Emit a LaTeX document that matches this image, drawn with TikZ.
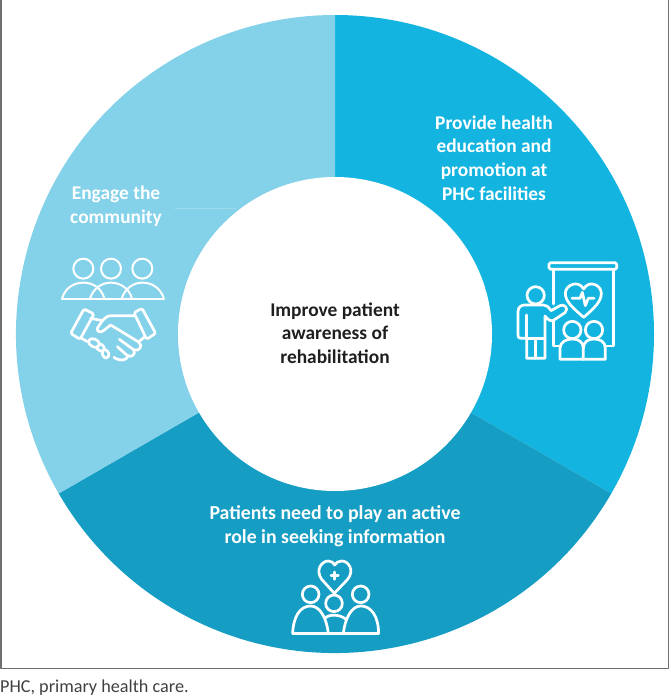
\documentclass[tikz,border=0pt]{standalone}
\usepackage{fontspec}
\setmainfont{Carlito}
\usepackage{xcolor}
\usetikzlibrary{positioning, calc}
\definecolor{ringa}{HTML}{13B5E0}
\definecolor{ringb}{HTML}{169DC4}
\definecolor{ringc}{HTML}{84D1EA}
\definecolor{framec}{HTML}{6F6F6F}
\definecolor{capc}{HTML}{404040}
\begin{document}
\begin{tikzpicture}[
  x=1pt, y=-1pt, line join=round, line cap=round,
  lab/.style={text=white, font=\fontsize{19.4}{23.6}\selectfont\bfseries, align=center},
  ico/.style={draw=white, line width=2.7pt},
  thin ico/.style={draw=white, line width=2pt}]
\useasboundingbox (0,0) rectangle (670,698);
\draw[framec, line width=1.4pt] (1,-2) rectangle (668.5,668.5);
% ring
\coordinate (c) at (335,334);
\fill[ringa] (c) -- ($(c)+(-90:319)$) arc[start angle=-90, end angle=30, radius=319] -- cycle;
\fill[ringb] (c) -- ($(c)+(30:319)$) arc[start angle=30, end angle=150, radius=319] -- cycle;
\fill[ringc] (c) -- ($(c)+(150:319)$) arc[start angle=150, end angle=270, radius=319] -- cycle;
\coordinate (seam a) at (175,208);
\coordinate (seam b) at (236,208);
\draw[ringc!80!white, line width=.6pt] (seam a) -- (seam b);
\node[circle, fill=white, minimum size=314pt, inner sep=0pt] (hub) at (c) {};
% labels
\node[lab, text=black!88] (core) at (335,333) {Improve patient\\awareness of\\rehabilitation};
\node[lab] (edu) at (494,158) {Provide health\\education and\\promotion at\\PHC facilities};
\node[lab, font=\fontsize{19.8}{23.8}\selectfont\bfseries] (act) at (335,526) {Patients need to play an active\\role in seeking information};
\node[lab] (com) at (116,206) {Engage the\\community};
\node[anchor=west, text=capc, font=\fontsize{18.2}{20}\selectfont, inner sep=0pt] (note) at (0,688) {PHC, primary health care.};
% presenter icon
\begin{scope}[shift={(480,240)}, x=0.3333pt, y=-0.3333pt]
\draw[ico, rounded corners=1.5pt] (207,68) rectangle (410,88);
\draw[ico] (220,88) -- (220,192) (220,245) -- (220,318) -- (240,318);
\draw[ico] (400,88) -- (400,318) -- (378,318);
\draw[ico] (311,232) .. controls (280,205) and (256,185) .. (256,160) .. controls (256,135) and (295,118) .. (311,147) .. controls (327,118) and (364,135) .. (364,160) .. controls (364,185) and (342,205) .. (311,232) -- cycle;
\draw[ico] (276,175) -- (300,175) -- (307,157) -- (316,197) -- (325,175) -- (342,175);
\draw[ico] (167,166) circle[radius=26];
\draw[ico] (140,355) -- (140,295) -- (122,295) .. controls (116,295) and (114,290) .. (114,285) -- (114,215) .. controls (114,200) and (125,195) .. (135,195) -- (190,195) .. controls (200,195) and (205,200) .. (213,212) -- (240,197) .. controls (252,190) and (268,205) .. (255,218) -- (222,240) .. controls (212,246) and (205,240) .. (195,228) -- (195,355) -- cycle;
\draw[ico] (140,225) -- (140,295) -- (195,295) (167,295) -- (167,355);
\draw[ico] (277,270) circle[radius=26] (342,270) circle[radius=26];
\draw[ico] (240,358) -- (240,325) .. controls (240,305) and (260,297) .. (277,297) .. controls (295,297) and (310,305) .. (310,325) -- (310,358) -- cycle;
\draw[ico] (310,325) .. controls (310,305) and (325,297) .. (342,297) .. controls (360,297) and (376,305) .. (376,325) -- (376,358) -- (310,358);
\end{scope}
% community icon
\begin{scope}[shift={(40,170)}, x=0.3333pt, y=-0.3333pt]
\draw[thin ico] (130,296) circle[radius=30] (213,296) circle[radius=30] (307,296) circle[radius=30];
\draw[thin ico] (66,386) -- (372,386);
\draw[thin ico] (66,386) .. controls (75,355) and (100,338) .. (130,338) .. controls (160,338) and (185,355) .. (193,386);
\draw[thin ico] (150,386) .. controls (160,355) and (185,338) .. (213,338) .. controls (240,338) and (268,355) .. (276,386);
\draw[thin ico] (245,386) .. controls (255,355) and (280,338) .. (307,338) .. controls (337,338) and (362,355) .. (372,386);
\end{scope}
% hands
\begin{scope}[shift={(60,300)}, x=0.3333pt, y=-0.3333pt]
\draw[ico, rounded corners=1.5pt] (72,27) -- (102,42) -- (60,118) -- (32,100) -- cycle;
\draw[ico, rounded corners=1.5pt] (246,25) -- (222,38) -- (260,118) -- (287,100) -- cycle;
\draw[ico] (222,47) -- (150,47) .. controls (135,50) and (128,60) .. (112,85) .. controls (110,95) and (122,100) .. (130,92) -- (152,75) -- (236,126) .. controls (250,138) and (238,155) .. (222,150) -- (178,118);
\draw[ico] (222,150) .. controls (228,165) and (212,175) .. (200,165) -- (172,140);
\draw[ico] (204,168) .. controls (200,182) and (180,185) .. (162,172);
\draw[ico] (255,110) -- (238,124);
\draw[ico] (92,55) -- (128,62);
\draw[ico] (62,113) -- (80,124);
\draw[ico, rounded corners=3pt] (85,118) -- (105,115) -- (122,132) -- (108,145) -- (85,132) -- cycle;
\draw[ico, rounded corners=3pt] (122,132) -- (135,140) -- (128,158) -- (110,145);
\draw[ico, rounded corners=3pt] (135,148) -- (150,160) -- (140,178) -- (125,165) -- (128,155);
\end{scope}
% patients icon
\begin{scope}[shift={(270,550)}, x=0.3333pt, y=-0.3333pt]
\draw[ico] (193,130) -- (155,88) .. controls (135,60) and (155,33) .. (175,33) .. controls (185,33) and (190,38) .. (194,45) .. controls (198,38) and (205,33) .. (215,33) .. controls (235,33) and (255,60) .. (233,88) -- cycle;
\draw[ico] (194,66) -- (194,88) (183,77) -- (205,77);
\draw[ico] (122,133) circle[radius=25] (192,160) circle[radius=25] (272,133) circle[radius=25];
\draw[ico] (68,250) -- (326,250);
\draw[ico] (68,250) .. controls (70,200) and (90,168) .. (122,168) .. controls (150,168) and (170,205) .. (175,250);
\draw[ico] (220,250) .. controls (225,205) and (245,168) .. (272,168) .. controls (305,168) and (325,200) .. (326,250);
\draw[ico] (165,205) .. controls (175,192) and (210,192) .. (228,208);
\end{scope}
\end{tikzpicture}
\end{document}
